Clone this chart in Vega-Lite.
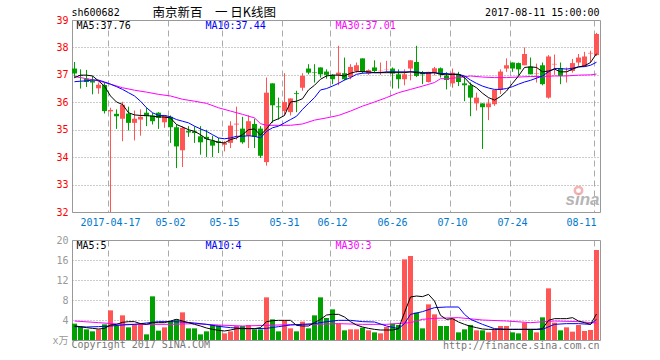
{
"$schema": "https://vega.github.io/schema/vega-lite/v6.json",
"padding": {"left": 51, "top": 6, "right": 0, "bottom": 0},
"background": "white",
"config": {
  "view": {"stroke": "#999999", "strokeWidth": 1},
  "font": "DejaVu Sans Mono",
  "axis": {"ticks": false, "tickSize": 0, "domain": false, "labelOverlap": false, "labelFlush": false, "labelFont": "DejaVu Sans Mono", "labelFontSize": 10, "gridWidth": 1, "labelAngle": 0},
  "axisX": {"gridDash": [6, 4], "gridColor": "#aaaaaa"},
  "axisY": {"gridDash": [1, 2], "gridColor": "#999999", "labelPadding": 4}
},
"spacing": 28,
"bounds": "flush",
"datasets": {"k": [
{"d":"2017-04-07","o":37.23,"h":37.47,"l":36.88,"c":37.05,"v":3.27,"m5":36.9,"m10":36.75,"m30":36.94,"v5":2.8,"v10":2.67,"v30":3.8},
{"d":"2017-04-10","o":36.99,"h":37.2,"l":36.5,"c":36.96,"v":2.6,"m5":36.99,"m10":36.77,"v5":2.67},
{"d":"2017-04-11","o":36.86,"h":37.18,"l":36.56,"c":36.74,"v":2.13,"m5":36.99,"m10":36.78,"m30":36.86,"v5":2.47,"v10":2.6},
{"d":"2017-04-12","o":36.78,"h":36.96,"l":36.29,"c":36.72,"v":1.73,"m5":36.96,"m10":36.81,"v5":2.33},
{"d":"2017-04-13","o":36.51,"h":36.72,"l":36.31,"c":36.64,"v":2.13,"m5":36.78,"m10":36.81,"m30":36.78,"v5":2.2,"v10":2.67,"v30":3.47},
{"d":"2017-04-14","o":36.63,"h":36.72,"l":35.59,"c":35.68,"v":3.13,"m5":36.59,"m10":36.74,"v5":2.33},
{"d":"2017-04-17","o":35.67,"h":35.8,"l":32.0,"c":35.72,"v":5.93,"m5":36.23,"m10":36.66,"m30":36.66,"v5":3.0,"v10":2.8},
{"d":"2017-04-18","o":35.58,"h":35.74,"l":35.03,"c":35.49,"v":2.8,"m5":36.01,"m10":36.57,"v5":3.13},
{"d":"2017-04-19","o":35.4,"h":36.02,"l":34.58,"c":35.91,"v":4.93,"m5":35.92,"m10":36.47,"m30":36.53,"v5":3.53,"v10":3.0,"v30":3.13},
{"d":"2017-04-20","o":35.59,"h":35.84,"l":34.97,"c":35.25,"v":2.53,"m5":35.62,"m10":36.35,"v5":3.67},
{"d":"2017-04-21","o":35.25,"h":35.7,"l":34.61,"c":35.4,"v":3.13,"m5":35.54,"m10":36.23,"m30":36.44,"v5":3.67,"v10":3.13},
{"d":"2017-04-24","o":35.37,"h":35.74,"l":34.78,"c":35.47,"v":3.13,"m5":35.52,"m10":36.04,"v5":3.27},
{"d":"2017-04-25","o":35.62,"h":35.8,"l":35.13,"c":35.49,"v":1.13,"m5":35.52,"m10":35.8,"m30":36.37,"v5":3.13,"v10":3.4,"v30":3.13},
{"d":"2017-04-26","o":35.52,"h":35.61,"l":35.19,"c":35.31,"v":8.73,"m5":35.49,"m10":35.62,"v5":3.47},
{"d":"2017-04-27","o":35.62,"h":35.64,"l":35.03,"c":35.43,"v":1.87,"m5":35.47,"m10":35.52,"m30":36.29,"v5":3.47,"v10":3.67},
{"d":"2017-04-28","o":35.27,"h":35.52,"l":35.07,"c":35.52,"v":2.53,"m5":35.46,"m10":35.52,"v5":3.47},
{"d":"2017-05-02","o":35.47,"h":35.52,"l":34.52,"c":35.09,"v":3.8,"m5":35.43,"m10":35.47,"m30":36.23,"v5":3.8,"v10":3.67,"v30":3.13},
{"d":"2017-05-03","o":35.09,"h":35.19,"l":33.6,"c":34.39,"v":4.13,"m5":35.19,"m10":35.37,"v5":4.13},
{"d":"2017-05-04","o":34.25,"h":35.13,"l":33.64,"c":35.07,"v":5.53,"m5":35.1,"m10":35.31,"m30":36.11,"v5":3.8,"v10":3.6},
{"d":"2017-05-05","o":34.95,"h":35.13,"l":34.74,"c":34.9,"v":2.33,"m5":35.0,"m10":35.25,"v5":3.47},
{"d":"2017-05-08","o":34.94,"h":35.12,"l":34.52,"c":34.88,"v":2.33,"m5":34.94,"m10":35.13,"m30":36.04,"v5":3.13,"v10":3.4,"v30":3.27},
{"d":"2017-05-09","o":34.76,"h":35.13,"l":34.09,"c":34.54,"v":1.13,"m5":34.82,"m10":35.03,"v5":2.8},
{"d":"2017-05-10","o":34.74,"h":35.0,"l":34.0,"c":34.66,"v":1.73,"m5":34.66,"m10":34.94,"m30":35.96,"v5":2.4,"v10":3.13},
{"d":"2017-05-11","o":34.6,"h":34.78,"l":34.0,"c":34.42,"v":3.0,"m5":34.61,"m10":34.82,"v5":2.13},
{"d":"2017-05-12","o":34.58,"h":34.7,"l":34.15,"c":34.52,"v":2.93,"m5":34.54,"m10":34.7,"m30":35.8,"v5":1.93,"v10":2.73,"v30":3.0},
{"d":"2017-05-15","o":34.45,"h":34.58,"l":34.21,"c":34.52,"v":1.33,"m5":34.52,"m10":34.67,"v5":1.8},
{"d":"2017-05-16","o":34.52,"h":35.31,"l":34.33,"c":35.15,"v":1.73,"m5":34.64,"m10":34.7,"m30":35.68,"v5":2.0,"v10":2.47},
{"d":"2017-05-17","o":35.19,"h":35.84,"l":34.64,"c":35.22,"v":2.8,"m5":34.7,"m10":34.76,"v5":2.27},
{"d":"2017-05-18","o":35.04,"h":35.47,"l":34.49,"c":34.54,"v":2.8,"m5":34.82,"m10":34.76,"m30":35.56,"v5":2.27,"v10":2.33,"v30":2.8},
{"d":"2017-05-19","o":34.78,"h":35.52,"l":34.33,"c":35.31,"v":3.0,"m5":35.0,"m10":34.78,"v5":2.27},
{"d":"2017-05-22","o":35.21,"h":35.4,"l":34.33,"c":34.74,"v":2.13,"m5":35.03,"m10":34.76,"m30":35.43,"v5":2.27,"v10":2.27},
{"d":"2017-05-23","o":35.04,"h":35.13,"l":33.97,"c":34.05,"v":2.13,"m5":34.8,"m10":34.7,"m30":35.22,"v5":2.47},
{"d":"2017-05-24","o":33.82,"h":36.9,"l":33.69,"c":36.35,"v":8.53,"m5":35.03,"m10":34.94,"m30":35.16,"v5":3.67,"v10":2.33,"v30":2.93},
{"d":"2017-05-25","o":36.69,"h":36.69,"l":35.25,"c":35.89,"v":4.13,"m5":35.31,"m10":35.07,"v5":3.87},
{"d":"2017-05-26","o":35.85,"h":36.17,"l":35.37,"c":35.82,"v":1.73,"m5":35.4,"m10":35.13,"m30":35.16,"v5":3.93,"v10":2.67},
{"d":"2017-05-31","o":35.68,"h":37.06,"l":35.52,"c":36.01,"v":3.93,"m5":35.52,"m10":35.25,"v5":3.93},
{"d":"2017-06-01","o":35.64,"h":36.14,"l":35.52,"c":36.14,"v":2.33,"m5":36.01,"m10":35.37,"m30":35.16,"v5":3.93,"v10":3.0,"v30":3.07},
{"d":"2017-06-02","o":36.33,"h":36.42,"l":35.64,"c":36.3,"v":1.73,"m5":36.04,"m10":35.49,"v5":2.93},
{"d":"2017-06-05","o":36.53,"h":37.06,"l":36.42,"c":36.96,"v":3.67,"m5":36.13,"m10":35.74,"m30":35.21,"v5":2.8,"v10":3.13},
{"d":"2017-06-06","o":37.23,"h":37.39,"l":37.02,"c":37.08,"v":2.33,"m5":36.45,"m10":35.96,"v5":2.8},
{"d":"2017-06-07","o":37.1,"h":37.39,"l":36.72,"c":37.08,"v":4.93,"m5":36.62,"m10":36.17,"m30":35.35,"v5":3.47,"v10":3.27,"v30":3.13},
{"d":"2017-06-08","o":37.27,"h":37.27,"l":36.9,"c":37.02,"v":8.53,"m5":36.84,"m10":36.45,"v5":4.13},
{"d":"2017-06-09","o":37.12,"h":37.2,"l":36.86,"c":37.0,"v":4.4,"m5":36.96,"m10":36.5,"m30":35.43,"v5":5.0,"v10":3.67},
{"d":"2017-06-12","o":37.0,"h":37.02,"l":36.66,"c":36.84,"v":6.13,"m5":36.99,"m10":36.59,"v5":5.13},
{"d":"2017-06-13","o":37.0,"h":38.06,"l":36.62,"c":37.08,"v":3.27,"m5":36.99,"m10":36.69,"m30":35.52,"v5":5.13,"v10":3.93,"v30":3.27},
{"d":"2017-06-14","o":37.06,"h":37.63,"l":36.8,"c":36.84,"v":1.93,"m5":36.96,"m10":36.81,"v5":4.6},
{"d":"2017-06-15","o":36.92,"h":37.39,"l":36.84,"c":37.29,"v":2.13,"m5":37.06,"m10":36.9,"m30":35.68,"v5":3.67,"v10":3.93},
{"d":"2017-06-16","o":37.14,"h":37.45,"l":37.08,"c":37.35,"v":2.13,"m5":37.12,"m10":37.02,"v5":3.0},
{"d":"2017-06-19","o":37.6,"h":37.6,"l":37.05,"c":37.11,"v":2.47,"m5":37.12,"m10":37.06,"m30":35.86,"v5":2.6,"v10":3.67,"v30":3.13},
{"d":"2017-06-20","o":37.05,"h":37.2,"l":37.0,"c":37.17,"v":1.93,"m5":37.11,"m10":37.07,"v5":2.33},
{"d":"2017-06-21","o":37.27,"h":37.53,"l":37.08,"c":37.14,"v":1.53,"m5":37.08,"m10":37.08,"m30":36.01,"v5":2.13,"v10":3.6},
{"d":"2017-06-22","o":37.13,"h":37.45,"l":37.0,"c":37.15,"v":1.33,"m5":37.08,"m10":37.08,"v5":2.0},
{"d":"2017-06-23","o":37.2,"h":37.51,"l":37.08,"c":37.21,"v":2.6,"m5":37.08,"m10":37.11,"m30":36.17,"v5":2.0,"v10":2.8,"v30":3.13},
{"d":"2017-06-26","o":37.23,"h":37.27,"l":36.5,"c":37.05,"v":3.27,"m5":37.08,"m10":37.11,"v5":2.0},
{"d":"2017-06-27","o":37.02,"h":37.2,"l":36.5,"c":36.84,"v":3.0,"m5":37.08,"m10":37.11,"m30":36.35,"v5":2.27,"v10":2.27},
{"d":"2017-06-28","o":36.84,"h":37.2,"l":36.62,"c":37.02,"v":16.13,"m5":37.08,"m10":37.11,"v5":5.47,"v10":3.27},
{"d":"2017-06-29","o":37.23,"h":37.53,"l":36.8,"c":37.53,"v":16.8,"m5":37.11,"m10":37.11,"m30":36.47,"v5":8.6,"v10":5.13,"v30":3.47},
{"d":"2017-06-30","o":37.47,"h":38.06,"l":36.92,"c":36.96,"v":5.47,"m5":37.08,"m10":37.11,"v5":8.8},
{"d":"2017-07-03","o":37.08,"h":37.14,"l":36.66,"c":37.02,"v":2.33,"m5":37.06,"m10":37.08,"m30":36.59,"v5":8.67,"v10":5.67,"v30":4.13},
{"d":"2017-07-04","o":36.74,"h":37.11,"l":36.72,"c":37.11,"v":7.13,"m5":37.06,"m10":37.08,"v5":9.13},
{"d":"2017-07-05","o":37.08,"h":37.29,"l":36.98,"c":37.24,"v":5.13,"m5":37.08,"m10":37.08,"m30":36.72,"v5":7.8,"v10":6.47,"v30":4.33},
{"d":"2017-07-06","o":37.24,"h":37.27,"l":36.9,"c":37.02,"v":2.8,"m5":37.02,"m10":37.05,"m30":36.86,"v5":4.93},
{"d":"2017-07-07","o":36.96,"h":37.1,"l":36.47,"c":36.81,"v":2.8,"m5":37.0,"m10":37.05,"m30":36.86,"v5":4.13,"v10":6.6},
{"d":"2017-07-10","o":36.69,"h":37.23,"l":36.53,"c":37.08,"v":4.33,"m5":37.02,"m10":37.02,"v5":4.27},
{"d":"2017-07-11","o":37.02,"h":37.11,"l":36.59,"c":36.74,"v":1.53,"m5":37.02,"m10":37.02,"m30":36.9,"v5":3.6,"v10":6.6,"v30":4.47},
{"d":"2017-07-12","o":36.69,"h":36.96,"l":36.04,"c":36.62,"v":2.13,"m5":36.9,"m10":36.96,"v5":3.13,"v10":5.13},
{"d":"2017-07-13","o":36.62,"h":36.72,"l":35.49,"c":36.17,"v":3.0,"m5":36.66,"m10":36.81,"m30":36.96,"v5":2.73,"v10":4.13},
{"d":"2017-07-14","o":35.96,"h":36.35,"l":35.7,"c":36.17,"v":1.93,"m5":36.53,"m10":36.69,"v5":2.47},
{"d":"2017-07-17","o":35.96,"h":35.96,"l":34.3,"c":35.82,"v":1.93,"m5":36.33,"m10":36.59,"m30":36.92,"v5":2.2,"v10":3.13,"v30":4.0},
{"d":"2017-07-18","o":35.82,"h":36.13,"l":35.35,"c":35.96,"v":1.53,"m5":36.17,"m10":36.52,"v5":2.13},
{"d":"2017-07-19","o":35.93,"h":36.45,"l":35.87,"c":36.45,"v":2.13,"m5":36.08,"m10":36.47,"m30":36.9,"v5":2.13,"v10":2.27},
{"d":"2017-07-20","o":36.45,"h":37.2,"l":36.3,"c":37.12,"v":2.8,"m5":36.21,"m10":36.47,"v5":2.13},
{"d":"2017-07-21","o":37.23,"h":37.6,"l":37.11,"c":37.35,"v":2.8,"m5":36.41,"m10":36.5,"m30":36.9,"v5":2.13,"v10":2.13,"v30":3.8},
{"d":"2017-07-24","o":37.45,"h":37.45,"l":37.11,"c":37.23,"v":1.53,"m5":36.69,"m10":36.57,"v5":2.13},
{"d":"2017-07-25","o":37.43,"h":37.45,"l":36.98,"c":37.2,"v":1.33,"m5":36.96,"m10":36.66,"m30":36.92,"v5":2.13,"v10":2.13},
{"d":"2017-07-26","o":37.35,"h":38.0,"l":37.35,"c":37.76,"v":3.47,"m5":37.27,"m10":36.74,"v5":2.13},
{"d":"2017-07-27","o":37.3,"h":37.63,"l":37.02,"c":37.02,"v":2.13,"m5":37.29,"m10":36.8,"m30":36.94,"v5":2.13,"v10":2.13,"v30":3.47},
{"d":"2017-07-28","o":37.03,"h":37.41,"l":36.72,"c":37.05,"v":1.53,"m5":37.27,"m10":36.88,"v5":2.13},
{"d":"2017-07-31","o":37.35,"h":37.45,"l":36.62,"c":36.66,"v":4.53,"m5":37.11,"m10":36.96,"m30":36.94,"v5":2.27,"v10":2.13},
{"d":"2017-08-01","o":36.17,"h":37.72,"l":36.13,"c":37.67,"v":10.33,"m5":37.14,"m10":37.11,"v5":3.93},
{"d":"2017-08-02","o":37.38,"h":37.74,"l":37.0,"c":37.4,"v":3.47,"m5":37.21,"m10":37.23,"m30":36.96,"v5":4.27,"v10":3.13,"v30":3.8},
{"d":"2017-08-03","o":37.24,"h":37.45,"l":36.66,"c":36.96,"v":1.93,"m5":37.11,"m10":37.23,"v5":4.27},
{"d":"2017-08-04","o":37.11,"h":37.27,"l":36.72,"c":37.13,"v":2.53,"m5":37.11,"m10":37.21,"m30":36.96,"v5":4.27,"v10":3.27},
{"d":"2017-08-07","o":37.14,"h":37.58,"l":37.08,"c":37.43,"v":1.67,"m5":37.21,"m10":37.24,"v5":4.47},
{"d":"2017-08-08","o":37.45,"h":37.76,"l":37.33,"c":37.63,"v":3.0,"m5":37.29,"m10":37.29,"m30":36.99,"v5":3.8,"v10":3.27,"v30":3.67},
{"d":"2017-08-09","o":37.3,"h":37.84,"l":37.3,"c":37.67,"v":1.8,"m5":37.33,"m10":37.3,"v5":3.47},
{"d":"2017-08-10","o":37.78,"h":37.88,"l":37.43,"c":37.8,"v":2.0,"m5":37.45,"m10":37.35,"m30":37.0,"v5":3.13,"v10":3.13},
{"d":"2017-08-11","o":37.72,"h":38.53,"l":37.69,"c":38.49,"v":18.0,"m5":37.77,"m10":37.46,"m30":37.03,"v5":5.2,"v10":4.13,"v30":3.4}
]},
"vconcat": [
{
"width": 528, "height": 192,
"data": {"name": "k"},
"layer": [
{"mark": {"type": "rule", "strokeWidth": 1},
 "encoding": {
  "x": {"field": "d", "type": "ordinal", "title": null, "scale": {"type": "band", "paddingInner": 0.16666667, "paddingOuter": 0.08333333, "align": 0},
        "axis": {"title": null, "values": ["2017-04-17","2017-05-02","2017-05-15","2017-05-31","2017-06-12","2017-06-26","2017-07-10","2017-07-24","2017-08-11"], "bandPosition": 0, "grid": true, "labelColor": "#0077cc", "labelPadding": 5, "labelExpr": "datum.value == '2017-04-17' ? datum.value : slice(datum.value, 5)", "labelAlign": {"condition": {"test": "datum.value == '2017-08-11'", "value": "right"}, "value": "center"}}},
  "y": {"field": "l", "type": "quantitative", "title": null, "scale": {"domain": [32, 39], "nice": false, "zero": false},
        "axis": {"title": null, "values": [32,33,34,35,36,37,38,39], "grid": true, "labelColor": "#ff0000"}},
  "y2": {"field": "h"},
  "color": {"condition": {"test": "datum.c >= datum.o", "value": "#ff5555"}, "value": "#00a000"}}},
{"mark": {"type": "bar", "minBandSize": 1},
 "encoding": {
  "x": {"field": "d", "type": "ordinal", "title": null,
        "axis": {"title": null, "values": ["2017-04-17","2017-05-02","2017-05-15","2017-05-31","2017-06-12","2017-06-26","2017-07-10","2017-07-24","2017-08-11"], "bandPosition": 0, "grid": true, "labelColor": "#0077cc", "labelPadding": 5, "labelExpr": "datum.value == '2017-04-17' ? datum.value : slice(datum.value, 5)", "labelAlign": {"condition": {"test": "datum.value == '2017-08-11'", "value": "right"}, "value": "center"}}},
  "y": {"field": "o", "type": "quantitative", "title": null,
        "axis": {"title": null, "values": [32,33,34,35,36,37,38,39], "grid": true, "labelColor": "#ff0000"}},
  "y2": {"field": "c"},
  "color": {"condition": {"test": "datum.c >= datum.o", "value": "#ff5555"}, "value": "#00a000"}}},
{"transform": [{"filter": "isValid(datum.m30)"}],
 "mark": {"type": "line", "strokeWidth": 1, "color": "#ff00ff"},
 "encoding": {
  "x": {"field": "d", "type": "ordinal", "title": null,
        "axis": {"title": null, "values": ["2017-04-17","2017-05-02","2017-05-15","2017-05-31","2017-06-12","2017-06-26","2017-07-10","2017-07-24","2017-08-11"], "bandPosition": 0, "grid": true, "labelColor": "#0077cc", "labelPadding": 5, "labelExpr": "datum.value == '2017-04-17' ? datum.value : slice(datum.value, 5)", "labelAlign": {"condition": {"test": "datum.value == '2017-08-11'", "value": "right"}, "value": "center"}}},
  "y": {"field": "m30", "type": "quantitative", "title": null,
        "axis": {"title": null, "values": [32,33,34,35,36,37,38,39], "grid": true, "labelColor": "#ff0000"}}}},
{"mark": {"type": "line", "strokeWidth": 1, "color": "#0000ff"},
 "encoding": {
  "x": {"field": "d", "type": "ordinal", "title": null,
        "axis": {"title": null, "values": ["2017-04-17","2017-05-02","2017-05-15","2017-05-31","2017-06-12","2017-06-26","2017-07-10","2017-07-24","2017-08-11"], "bandPosition": 0, "grid": true, "labelColor": "#0077cc", "labelPadding": 5, "labelExpr": "datum.value == '2017-04-17' ? datum.value : slice(datum.value, 5)", "labelAlign": {"condition": {"test": "datum.value == '2017-08-11'", "value": "right"}, "value": "center"}}},
  "y": {"field": "m10", "type": "quantitative", "title": null,
        "axis": {"title": null, "values": [32,33,34,35,36,37,38,39], "grid": true, "labelColor": "#ff0000"}}}},
{"mark": {"type": "line", "strokeWidth": 1, "color": "#000000"},
 "encoding": {
  "x": {"field": "d", "type": "ordinal", "title": null,
        "axis": {"title": null, "values": ["2017-04-17","2017-05-02","2017-05-15","2017-05-31","2017-06-12","2017-06-26","2017-07-10","2017-07-24","2017-08-11"], "bandPosition": 0, "grid": true, "labelColor": "#0077cc", "labelPadding": 5, "labelExpr": "datum.value == '2017-04-17' ? datum.value : slice(datum.value, 5)", "labelAlign": {"condition": {"test": "datum.value == '2017-08-11'", "value": "right"}, "value": "center"}}},
  "y": {"field": "m5", "type": "quantitative", "title": null,
        "axis": {"title": null, "values": [32,33,34,35,36,37,38,39], "grid": true, "labelColor": "#ff0000"}}}},
{"data": {"values": [{"t": "sh600682", "d": "2017-04-07", "p": 39.27}]},
 "mark": {"type": "text", "align": "left", "baseline": "middle", "font": "DejaVu Sans Mono", "fontSize": 10, "color": "#000000", "dx": -3},
 "encoding": {
  "x": {"field": "d", "type": "ordinal", "title": null,
        "axis": {"title": null, "values": ["2017-04-17","2017-05-02","2017-05-15","2017-05-31","2017-06-12","2017-06-26","2017-07-10","2017-07-24","2017-08-11"], "bandPosition": 0, "grid": true, "labelColor": "#0077cc", "labelPadding": 5, "labelExpr": "datum.value == '2017-04-17' ? datum.value : slice(datum.value, 5)", "labelAlign": {"condition": {"test": "datum.value == '2017-08-11'", "value": "right"}, "value": "center"}}},
  "y": {"field": "p", "type": "quantitative", "title": null,
        "axis": {"title": null, "values": [32,33,34,35,36,37,38,39], "grid": true, "labelColor": "#ff0000"}},
  "text": {"field": "t"}}},
{"data": {"values": [{"t": "MA5:37.76", "d": "2017-04-07", "p": 38.78}]},
 "mark": {"type": "text", "align": "left", "baseline": "middle", "font": "DejaVu Sans Mono", "fontSize": 10, "color": "#000000", "dx": 2},
 "encoding": {
  "x": {"field": "d", "type": "ordinal", "title": null,
        "axis": {"title": null, "values": ["2017-04-17","2017-05-02","2017-05-15","2017-05-31","2017-06-12","2017-06-26","2017-07-10","2017-07-24","2017-08-11"], "bandPosition": 0, "grid": true, "labelColor": "#0077cc", "labelPadding": 5, "labelExpr": "datum.value == '2017-04-17' ? datum.value : slice(datum.value, 5)", "labelAlign": {"condition": {"test": "datum.value == '2017-08-11'", "value": "right"}, "value": "center"}}},
  "y": {"field": "p", "type": "quantitative", "title": null,
        "axis": {"title": null, "values": [32,33,34,35,36,37,38,39], "grid": true, "labelColor": "#ff0000"}},
  "text": {"field": "t"}}},
{"data": {"values": [{"t": "南京新百\u2003一 日K线图", "d": "2017-04-26", "p": 39.27}]},
 "mark": {"type": "text", "align": "left", "baseline": "middle", "font": "Noto Sans CJK SC", "fontSize": 12.5, "color": "#000000", "dx": 0},
 "encoding": {
  "x": {"field": "d", "type": "ordinal", "title": null,
        "axis": {"title": null, "values": ["2017-04-17","2017-05-02","2017-05-15","2017-05-31","2017-06-12","2017-06-26","2017-07-10","2017-07-24","2017-08-11"], "bandPosition": 0, "grid": true, "labelColor": "#0077cc", "labelPadding": 5, "labelExpr": "datum.value == '2017-04-17' ? datum.value : slice(datum.value, 5)", "labelAlign": {"condition": {"test": "datum.value == '2017-08-11'", "value": "right"}, "value": "center"}}},
  "y": {"field": "p", "type": "quantitative", "title": null,
        "axis": {"title": null, "values": [32,33,34,35,36,37,38,39], "grid": true, "labelColor": "#ff0000"}},
  "text": {"field": "t"}}},
{"data": {"values": [{"t": "2017-08-11 15:00:00", "d": "2017-08-11", "p": 39.27}]},
 "mark": {"type": "text", "align": "right", "baseline": "middle", "font": "DejaVu Sans Mono", "fontSize": 10, "color": "#000000", "dx": 3},
 "encoding": {
  "x": {"field": "d", "type": "ordinal", "title": null,
        "axis": {"title": null, "values": ["2017-04-17","2017-05-02","2017-05-15","2017-05-31","2017-06-12","2017-06-26","2017-07-10","2017-07-24","2017-08-11"], "bandPosition": 0, "grid": true, "labelColor": "#0077cc", "labelPadding": 5, "labelExpr": "datum.value == '2017-04-17' ? datum.value : slice(datum.value, 5)", "labelAlign": {"condition": {"test": "datum.value == '2017-08-11'", "value": "right"}, "value": "center"}}},
  "y": {"field": "p", "type": "quantitative", "title": null,
        "axis": {"title": null, "values": [32,33,34,35,36,37,38,39], "grid": true, "labelColor": "#ff0000"}},
  "text": {"field": "t"}}},
{"data": {"values": [{"t": "MA10:37.44", "d": "2017-05-10", "p": 38.78}]},
 "mark": {"type": "text", "align": "left", "baseline": "middle", "font": "DejaVu Sans Mono", "fontSize": 10, "color": "#0000ff", "dx": -1},
 "encoding": {
  "x": {"field": "d", "type": "ordinal", "title": null,
        "axis": {"title": null, "values": ["2017-04-17","2017-05-02","2017-05-15","2017-05-31","2017-06-12","2017-06-26","2017-07-10","2017-07-24","2017-08-11"], "bandPosition": 0, "grid": true, "labelColor": "#0077cc", "labelPadding": 5, "labelExpr": "datum.value == '2017-04-17' ? datum.value : slice(datum.value, 5)", "labelAlign": {"condition": {"test": "datum.value == '2017-08-11'", "value": "right"}, "value": "center"}}},
  "y": {"field": "p", "type": "quantitative", "title": null,
        "axis": {"title": null, "values": [32,33,34,35,36,37,38,39], "grid": true, "labelColor": "#ff0000"}},
  "text": {"field": "t"}}},
{"data": {"values": [{"t": "MA30:37.01", "d": "2017-06-13", "p": 38.78}]},
 "mark": {"type": "text", "align": "left", "baseline": "middle", "font": "DejaVu Sans Mono", "fontSize": 10, "color": "#ff00ff", "dx": -3},
 "encoding": {
  "x": {"field": "d", "type": "ordinal", "title": null,
        "axis": {"title": null, "values": ["2017-04-17","2017-05-02","2017-05-15","2017-05-31","2017-06-12","2017-06-26","2017-07-10","2017-07-24","2017-08-11"], "bandPosition": 0, "grid": true, "labelColor": "#0077cc", "labelPadding": 5, "labelExpr": "datum.value == '2017-04-17' ? datum.value : slice(datum.value, 5)", "labelAlign": {"condition": {"test": "datum.value == '2017-08-11'", "value": "right"}, "value": "center"}}},
  "y": {"field": "p", "type": "quantitative", "title": null,
        "axis": {"title": null, "values": [32,33,34,35,36,37,38,39], "grid": true, "labelColor": "#ff0000"}},
  "text": {"field": "t"}}},
{"data": {"values": [{"t": "sina", "d": "2017-08-11", "p": 32.27}]},
 "mark": {"type": "text", "align": "right", "baseline": "alphabetic", "font": "Liberation Sans", "fontSize": 17, "fontStyle": "italic", "fontWeight": "bold", "color": "#b5b5b5", "dx": 3},
 "encoding": {
  "x": {"field": "d", "type": "ordinal", "title": null,
        "axis": {"title": null, "values": ["2017-04-17","2017-05-02","2017-05-15","2017-05-31","2017-06-12","2017-06-26","2017-07-10","2017-07-24","2017-08-11"], "bandPosition": 0, "grid": true, "labelColor": "#0077cc", "labelPadding": 5, "labelExpr": "datum.value == '2017-04-17' ? datum.value : slice(datum.value, 5)", "labelAlign": {"condition": {"test": "datum.value == '2017-08-11'", "value": "right"}, "value": "center"}}},
  "y": {"field": "p", "type": "quantitative", "title": null,
        "axis": {"title": null, "values": [32,33,34,35,36,37,38,39], "grid": true, "labelColor": "#ff0000"}},
  "text": {"field": "t"}}},
{"data": {"values": [{"d": "2017-08-08", "p": 32.78}]},
 "mark": {"type": "point", "filled": false, "stroke": "#f2a0a0", "strokeWidth": 2.5, "size": 55, "opacity": 0.8, "dx": 2},
 "encoding": {
  "x": {"field": "d", "type": "ordinal", "title": null,
        "axis": {"title": null, "values": ["2017-04-17","2017-05-02","2017-05-15","2017-05-31","2017-06-12","2017-06-26","2017-07-10","2017-07-24","2017-08-11"], "bandPosition": 0, "grid": true, "labelColor": "#0077cc", "labelPadding": 5, "labelExpr": "datum.value == '2017-04-17' ? datum.value : slice(datum.value, 5)", "labelAlign": {"condition": {"test": "datum.value == '2017-08-11'", "value": "right"}, "value": "center"}}},
  "y": {"field": "p", "type": "quantitative", "title": null,
        "axis": {"title": null, "values": [32,33,34,35,36,37,38,39], "grid": true, "labelColor": "#ff0000"}}}}
]
},
{
"width": 528, "height": 100,
"data": {"name": "k"},
"layer": [
{"mark": {"type": "bar"},
 "encoding": {
  "x": {"field": "d", "type": "ordinal", "title": null, "scale": {"type": "band", "paddingInner": 0.16666667, "paddingOuter": 0.08333333, "align": 0},
        "axis": {"title": null, "values": ["2017-04-17","2017-05-02","2017-05-15","2017-05-31","2017-06-12","2017-06-26","2017-07-10","2017-07-24","2017-08-11"], "bandPosition": 0, "labels": false, "grid": true}},
  "y": {"field": "v", "type": "quantitative", "title": null, "scale": {"domain": [0, 20], "nice": false, "zero": true},
        "axis": {"title": null, "values": [0,4,8,12,16,20], "grid": true, "labelColor": "#999999", "labelFont": "DejaVu Sans Mono, Noto Sans CJK SC", "labelExpr": "datum.value == 0 ? 'x万' : datum.label"}},
  "color": {"condition": {"test": "datum.c >= datum.o", "value": "#ff5555"}, "value": "#00a000"}}},
{"transform": [{"filter": "isValid(datum.v30)"}],
 "mark": {"type": "line", "strokeWidth": 1, "color": "#ff00ff"},
 "encoding": {
  "x": {"field": "d", "type": "ordinal", "title": null,
        "axis": {"title": null, "values": ["2017-04-17","2017-05-02","2017-05-15","2017-05-31","2017-06-12","2017-06-26","2017-07-10","2017-07-24","2017-08-11"], "bandPosition": 0, "labels": false, "grid": true}},
  "y": {"field": "v30", "type": "quantitative", "title": null,
        "axis": {"title": null, "values": [0,4,8,12,16,20], "grid": true, "labelColor": "#999999", "labelFont": "DejaVu Sans Mono, Noto Sans CJK SC", "labelExpr": "datum.value == 0 ? 'x万' : datum.label"}}}},
{"transform": [{"filter": "isValid(datum.v10)"}],
 "mark": {"type": "line", "strokeWidth": 1, "color": "#0000ff"},
 "encoding": {
  "x": {"field": "d", "type": "ordinal", "title": null,
        "axis": {"title": null, "values": ["2017-04-17","2017-05-02","2017-05-15","2017-05-31","2017-06-12","2017-06-26","2017-07-10","2017-07-24","2017-08-11"], "bandPosition": 0, "labels": false, "grid": true}},
  "y": {"field": "v10", "type": "quantitative", "title": null,
        "axis": {"title": null, "values": [0,4,8,12,16,20], "grid": true, "labelColor": "#999999", "labelFont": "DejaVu Sans Mono, Noto Sans CJK SC", "labelExpr": "datum.value == 0 ? 'x万' : datum.label"}}}},
{"mark": {"type": "line", "strokeWidth": 1, "color": "#000000"},
 "encoding": {
  "x": {"field": "d", "type": "ordinal", "title": null,
        "axis": {"title": null, "values": ["2017-04-17","2017-05-02","2017-05-15","2017-05-31","2017-06-12","2017-06-26","2017-07-10","2017-07-24","2017-08-11"], "bandPosition": 0, "labels": false, "grid": true}},
  "y": {"field": "v5", "type": "quantitative", "title": null,
        "axis": {"title": null, "values": [0,4,8,12,16,20], "grid": true, "labelColor": "#999999", "labelFont": "DejaVu Sans Mono, Noto Sans CJK SC", "labelExpr": "datum.value == 0 ? 'x万' : datum.label"}}}},
{"data": {"values": [{"t": "MA5:5", "d": "2017-04-07", "p": 18.9}]},
 "mark": {"type": "text", "align": "left", "baseline": "middle", "font": "DejaVu Sans Mono", "fontSize": 10, "color": "#000000", "dx": 2},
 "encoding": {
  "x": {"field": "d", "type": "ordinal", "title": null,
        "axis": {"title": null, "values": ["2017-04-17","2017-05-02","2017-05-15","2017-05-31","2017-06-12","2017-06-26","2017-07-10","2017-07-24","2017-08-11"], "bandPosition": 0, "labels": false, "grid": true}},
  "y": {"field": "p", "type": "quantitative", "title": null,
        "axis": {"title": null, "values": [0,4,8,12,16,20], "grid": true, "labelColor": "#999999", "labelFont": "DejaVu Sans Mono, Noto Sans CJK SC", "labelExpr": "datum.value == 0 ? 'x万' : datum.label"}},
  "text": {"field": "t"}}},
{"data": {"values": [{"t": "MA10:4", "d": "2017-05-10", "p": 18.9}]},
 "mark": {"type": "text", "align": "left", "baseline": "middle", "font": "DejaVu Sans Mono", "fontSize": 10, "color": "#0000ff", "dx": -1},
 "encoding": {
  "x": {"field": "d", "type": "ordinal", "title": null,
        "axis": {"title": null, "values": ["2017-04-17","2017-05-02","2017-05-15","2017-05-31","2017-06-12","2017-06-26","2017-07-10","2017-07-24","2017-08-11"], "bandPosition": 0, "labels": false, "grid": true}},
  "y": {"field": "p", "type": "quantitative", "title": null,
        "axis": {"title": null, "values": [0,4,8,12,16,20], "grid": true, "labelColor": "#999999", "labelFont": "DejaVu Sans Mono, Noto Sans CJK SC", "labelExpr": "datum.value == 0 ? 'x万' : datum.label"}},
  "text": {"field": "t"}}},
{"data": {"values": [{"t": "MA30:3", "d": "2017-06-13", "p": 18.9}]},
 "mark": {"type": "text", "align": "left", "baseline": "middle", "font": "DejaVu Sans Mono", "fontSize": 10, "color": "#ff00ff", "dx": -3},
 "encoding": {
  "x": {"field": "d", "type": "ordinal", "title": null,
        "axis": {"title": null, "values": ["2017-04-17","2017-05-02","2017-05-15","2017-05-31","2017-06-12","2017-06-26","2017-07-10","2017-07-24","2017-08-11"], "bandPosition": 0, "labels": false, "grid": true}},
  "y": {"field": "p", "type": "quantitative", "title": null,
        "axis": {"title": null, "values": [0,4,8,12,16,20], "grid": true, "labelColor": "#999999", "labelFont": "DejaVu Sans Mono, Noto Sans CJK SC", "labelExpr": "datum.value == 0 ? 'x万' : datum.label"}},
  "text": {"field": "t"}}},
{"data": {"values": [{"t": "Copyright 2017 SINA.COM", "d": "2017-04-07", "p": -0.9}]},
 "mark": {"type": "text", "align": "left", "baseline": "middle", "font": "DejaVu Sans Mono", "fontSize": 10, "color": "#777777", "dx": -3},
 "encoding": {
  "x": {"field": "d", "type": "ordinal", "title": null,
        "axis": {"title": null, "values": ["2017-04-17","2017-05-02","2017-05-15","2017-05-31","2017-06-12","2017-06-26","2017-07-10","2017-07-24","2017-08-11"], "bandPosition": 0, "labels": false, "grid": true}},
  "y": {"field": "p", "type": "quantitative", "title": null,
        "axis": {"title": null, "values": [0,4,8,12,16,20], "grid": true, "labelColor": "#999999", "labelFont": "DejaVu Sans Mono, Noto Sans CJK SC", "labelExpr": "datum.value == 0 ? 'x万' : datum.label"}},
  "text": {"field": "t"}}},
{"data": {"values": [{"t": "http://finance.sina.com.cn", "d": "2017-08-11", "p": -1.1}]},
 "mark": {"type": "text", "align": "right", "baseline": "middle", "font": "DejaVu Sans Mono", "fontSize": 10, "color": "#777777", "dx": 3},
 "encoding": {
  "x": {"field": "d", "type": "ordinal", "title": null,
        "axis": {"title": null, "values": ["2017-04-17","2017-05-02","2017-05-15","2017-05-31","2017-06-12","2017-06-26","2017-07-10","2017-07-24","2017-08-11"], "bandPosition": 0, "labels": false, "grid": true}},
  "y": {"field": "p", "type": "quantitative", "title": null,
        "axis": {"title": null, "values": [0,4,8,12,16,20], "grid": true, "labelColor": "#999999", "labelFont": "DejaVu Sans Mono, Noto Sans CJK SC", "labelExpr": "datum.value == 0 ? 'x万' : datum.label"}},
  "text": {"field": "t"}}}
]
}
]
}
